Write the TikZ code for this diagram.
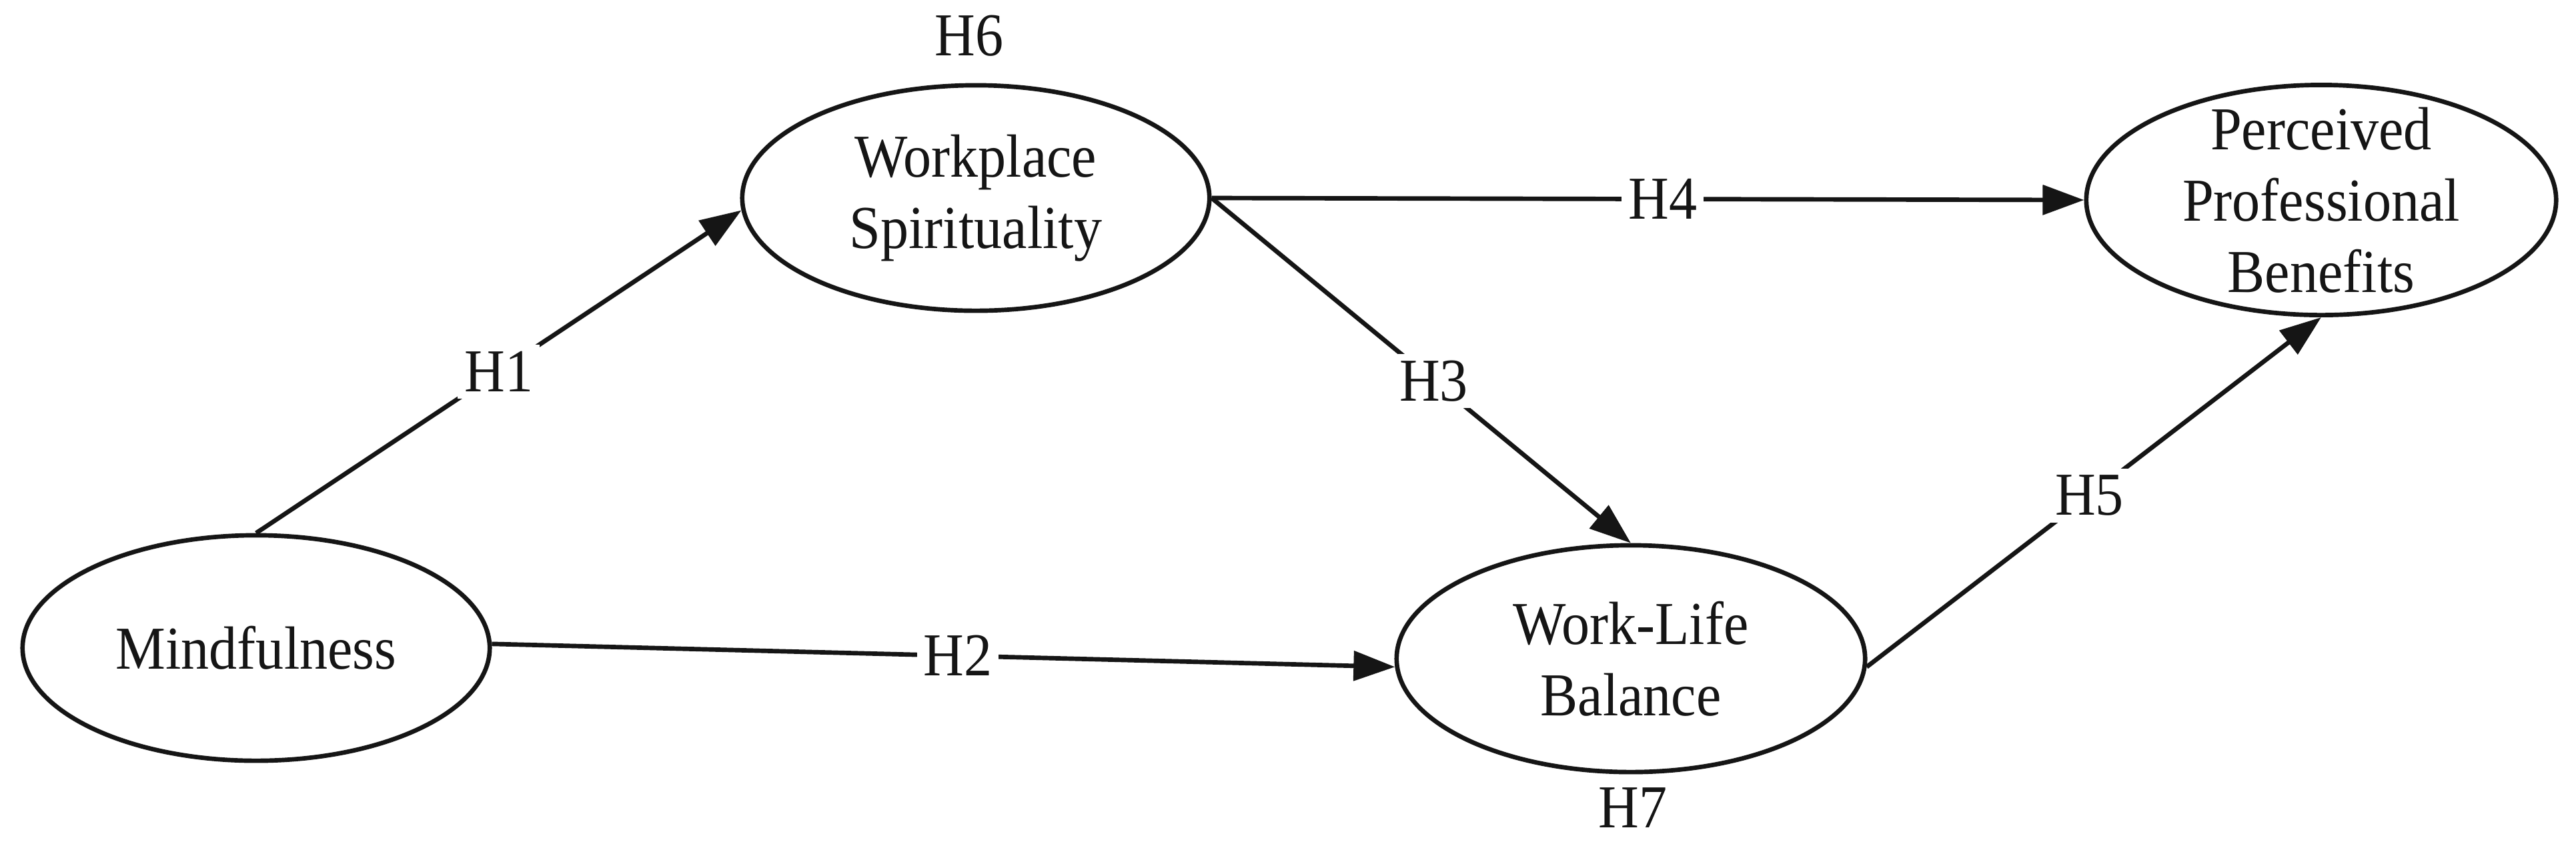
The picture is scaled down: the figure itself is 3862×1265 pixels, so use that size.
\documentclass[tikz,border=0pt]{standalone}
\usepackage{fontspec}
\setmainfont{Liberation Serif}[FakeStretch=0.92]
\usetikzlibrary{arrows.meta,shapes.geometric}
\definecolor{ink}{HTML}{151515}
\begin{document}
\begin{tikzpicture}[x=0.01cm,y=-0.01cm,
  ell/.style={ellipse, draw=ink, line width=1.9pt, minimum width=7cm, minimum height=3.38cm, inner sep=0pt},
  txt/.style={align=center, font=\fontsize{26}{30.5}\selectfont, text=ink, inner sep=0pt},
  lab/.style={fill=white, font=\fontsize{26}{30.5}\selectfont, text=ink, inner sep=0.1cm},
  arr/.style={draw=ink, line width=1.9pt, -{Triangle[length=0.62cm,width=0.44cm]}}]
\useasboundingbox[fill=white] (0,0) rectangle (3862,1265);
% ellipses
\node[ell] (mind) at (384,972) {};
\node[txt] (mindT) at (mind) {Mindfulness};
\node[ell] (ws) at (1463,297) {};
\node[txt] (wsT) at (ws) {Workplace\\Spirituality};
\node[ell, minimum width=7.04cm, minimum height=3.45cm] (ppb) at (3480,300) {};
\node[txt] (ppbT) at (ppb) {Perceived\\Professional\\Benefits};
\node[ell, minimum width=7.02cm, minimum height=3.4cm] (wlb) at (2445,988) {};
\node[txt] (wlbT) at (wlb) {Work-Life\\Balance};
\node[txt] (h6) at (1453,54) {H6};
\node[txt] (h7) at (2448,1212) {H7};
% connectors
\draw[arr] (mind.north) -- node[lab,pos=0.5]{H1} (ws.183);
\draw[arr] (mind.1) -- node[lab,pos=0.516]{H2} (wlb.182);
\draw[arr] (ws.east) -- node[lab,pos=0.53]{H3} (wlb.north);
\draw[arr] (ws.east) -- node[lab,pos=0.517]{H4} (ppb.west);
\draw[arr] (wlb.358) -- node[lab,pos=0.49]{H5} (ppb.south);
\end{tikzpicture}
\end{document}
